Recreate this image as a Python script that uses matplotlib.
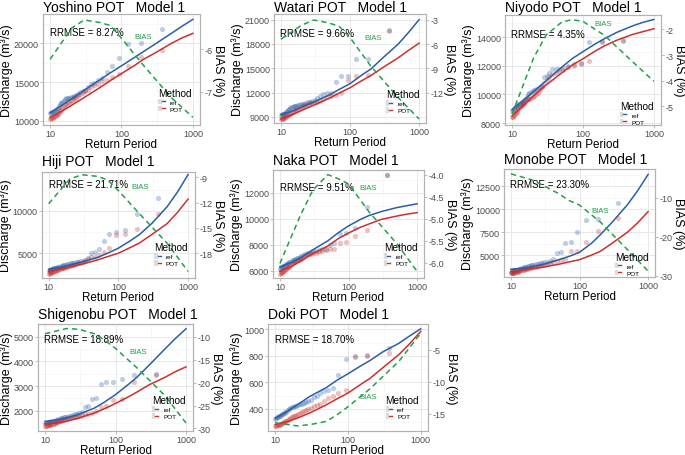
import matplotlib
matplotlib.use("Agg")
import matplotlib.pyplot as plt
from matplotlib.patches import Rectangle
from matplotlib.lines import Line2D
from matplotlib.legend_handler import HandlerTuple
from matplotlib.ticker import FixedLocator, NullFormatter, FormatStrFormatter

plt.rcParams['font.family'] = ['Liberation Sans', 'DejaVu Sans']
plt.rcParams['axes.unicode_minus'] = False

# ------------------------------------------------------------------
# data
# ------------------------------------------------------------------
# return periods of the ranked POT peaks (empirical points)
T_EMP = [370, 185, 123, 92.5, 74, 61.7, 52.9, 46.3, 41.1, 37, 33.6, 30.8, 28.5,
         26.4, 24.7, 23.1, 21.8, 20.6, 19.5, 18.5, 17.6, 16.8, 16.1, 15.4, 14.8,
         14.2, 13.7, 13.2, 12.8, 12.3, 11.9, 11.6, 11.2, 10.9, 10.6, 10.3, 10.0]
# return periods where the fitted curves were read
T_FIT = [10, 15, 20, 30, 50, 70, 100, 150, 200, 300, 500, 700, 1000]
# return periods where the BIAS curve was read
T_BIAS = [10, 20, 30, 50, 70, 100, 200, 500, 1000]

STATIONS = ['Yoshino', 'Watari', 'Niyodo', 'Hiji', 'Naka', 'Monobe', 'Shigenobu', 'Doki']
RRMSE = [8.27, 9.66, 4.35, 21.71, 9.51, 23.30, 18.89, 18.70]

yoshino_ref_fit = [11050, 12050, 12850, 13950, 15300, 16200, 17100, 18150, 18900, 19950, 21300, 22200, 23100]
yoshino_pot_fit = [10430, 11300, 12000, 13000, 14300, 15200, 16100, 17100, 17900, 18800, 20000, 20700, 21300]
yoshino_bias = [-6.24, -5.51, -5.32, -5.38, -5.45, -5.75, -6.37, -7.14, -7.6]
yoshino_ref_pts = [21900, 20100, 19900, 18100, 17100, 16300, 15500, 15300, 14900, 14700,
                   14300, 14000, 13900, 13700, 13500, 13300, 13200, 13100, 13050, 13000,
                   12950, 12900, 12800, 12600, 12400, 12300, 12200, 11900, 11700, 11500,
                   11400, 11300, 11200, 11150, 11100, 11050, 11000]
yoshino_pot_pts = [19200, 18200, 17100, 16000, 15700, 15300, 15100, 14800, 14600, 14300,
                   14000, 13800, 13600, 13400, 13200, 13000, 12900, 12700, 12500, 12400,
                   12300, 12200, 12000, 11800, 11600, 11400, 11200, 11000, 10900, 10800,
                   10700, 10600, 10500, 10400, 10350, 10300, 10250]

watari_ref_fit = [9300, 9750, 10200, 10850, 11700, 12400, 13100, 14200, 14900, 16300, 18000, 19400, 21000]
watari_pot_fit = [8750, 9300, 9800, 10450, 11300, 11950, 12600, 13500, 14100, 15100, 16300, 17200, 18100]
watari_bias = [-5.4, -3.66, -3.04, -3.41, -3.83, -5.2, -8.7, -12.6, -15.2]
watari_ref_pts = [19700, 16200, 16100, 14100, 14000, 13300, 12000, 11900, 11800, 11600,
                  11300, 11100, 11000, 10900, 10800, 10700, 10650, 10600, 10550, 10500,
                  10450, 10400, 10350, 10300, 10250, 10200, 10100, 10000, 9800, 9700,
                  9600, 9500, 9400, 9350, 9300, 9250, 9200]
watari_pot_pts = [19600, 14200, 14000, 13600, 12000, 11700, 11600, 11400, 11200, 11000,
                  10900, 10800, 10750, 10700, 10600, 10500, 10400, 10300, 10200, 10100,
                  10000, 9900, 9800, 9700, 9600, 9500, 9400, 9300, 9200, 9100,
                  9000, 8950, 8900, 8850, 8800, 8750, 8700]

niyodo_ref_fit = [8950, 9650, 10200, 10950, 11900, 12500, 13000, 13550, 13900, 14350, 14800, 15050, 15250]
niyodo_pot_fit = [8500, 9300, 9900, 10650, 11500, 12050, 12500, 13050, 13400, 13800, 14200, 14400, 14600]
niyodo_bias = [-5.3, -3.13, -2.23, -1.72, -1.62, -1.69, -2.23, -3.26, -4.03]
niyodo_ref_pts = [13800, 13750, 13700, 12200, 12100, 12000, 11850, 11800, 11800, 11750,
                  11500, 11300, 11200, 10600, 10500, 10400, 10350, 10300, 10250, 10200,
                  10100, 10000, 9800, 9700, 9600, 9500, 9450, 9400, 9350, 9300,
                  9250, 9200, 9150, 9100, 9000, 8900, 8850]
niyodo_pot_pts = [13750, 13700, 12350, 12100, 12000, 11900, 11700, 11650, 11500, 11400,
                  11200, 11000, 10800, 10500, 10300, 10100, 10000, 9900, 9800, 9750,
                  9700, 9650, 9600, 9500, 9400, 9300, 9250, 9200, 9100, 9000,
                  8900, 8800, 8700, 8600, 8500, 8450, 8400]

hiji_ref_fit = [3100, 3350, 3600, 3950, 4500, 5000, 5600, 6500, 7200, 8500, 10500, 12200, 14300]
hiji_pot_fit = [2850, 3100, 3350, 3700, 4200, 4600, 5000, 5700, 6200, 7200, 8500, 9800, 11400]
hiji_bias = [-12.13, -9.2, -8.69, -8.88, -9.3, -10.56, -13.3, -16.8, -20.15]
hiji_ref_pts = [11500, 9700, 7800, 7500, 7300, 6400, 5500, 5100, 5050, 4400,
                4200, 4100, 4050, 4000, 3950, 3900, 3850, 3800, 3750, 3700,
                3650, 3600, 3550, 3500, 3450, 3400, 3380, 3350, 3300, 3280,
                3250, 3200, 3150, 3100, 3050, 3000, 2950]
hiji_pot_pts = [9700, 7900, 7300, 7200, 5600, 5200, 4800, 4600, 4500, 4300,
                4100, 4000, 3900, 3800, 3700, 3600, 3550, 3500, 3450, 3400,
                3350, 3300, 3250, 3200, 3150, 3100, 3050, 3000, 2950, 2900,
                2850, 2800, 2750, 2700, 2680, 2650, 2600]

naka_ref_fit = [6300, 6650, 7000, 7600, 8300, 8900, 9450, 9950, 10250, 10550, 10850, 11000, 11150]
naka_pot_fit = [5950, 6350, 6750, 7300, 7900, 8450, 8900, 9350, 9600, 9950, 10200, 10350, 10470]
naka_bias = [-6.02, -4.92, -4.36, -4.0, -4.09, -4.21, -4.85, -5.56, -6.2]
naka_ref_pts = [13400, 10900, 9300, 8900, 8850, 8100, 8000, 7700, 7650, 7600,
                7550, 7500, 7450, 7400, 7350, 7300, 7200, 7100, 7050, 7000,
                6950, 6900, 6850, 6800, 6750, 6700, 6650, 6600, 6550, 6500,
                6450, 6400, 6350, 6300, 6250, 6200, 6150]
naka_pot_pts = [13350, 9100, 8700, 8200, 8100, 7700, 7650, 7600, 7500, 7450,
                7400, 7350, 7300, 7250, 7200, 7100, 7000, 6900, 6850, 6800,
                6750, 6700, 6650, 6600, 6500, 6400, 6300, 6250, 6200, 6100,
                6050, 6000, 5950, 5900, 5850, 5800, 5750]

monobe_ref_fit = [3450, 3570, 3700, 4000, 4500, 4850, 5300, 6300, 7200, 8600, 10500, 12000, 13800]
monobe_pot_fit = [3200, 3350, 3500, 3700, 4000, 4250, 4500, 5000, 5400, 6300, 7500, 8500, 9750]
monobe_bias = [-3.9, -5.4, -6.9, -9.0, -10.7, -11.9, -16.2, -23.3, -28.8]
monobe_ref_pts = [10700, 8900, 8800, 7500, 6450, 6300, 5300, 5200, 4600, 4400,
                  4300, 4200, 4150, 4100, 4050, 4000, 3950, 3900, 3880, 3850,
                  3800, 3750, 3700, 3650, 3600, 3550, 3500, 3450, 3420, 3400,
                  3380, 3350, 3320, 3300, 3250, 3200, 3150]
monobe_pot_pts = [9000, 7600, 6400, 5500, 5400, 4600, 4500, 4400, 4200, 4100,
                  4000, 3950, 3900, 3850, 3800, 3750, 3700, 3650, 3600, 3550,
                  3500, 3480, 3450, 3420, 3400, 3350, 3300, 3250, 3200, 3180,
                  3150, 3120, 3100, 3080, 3050, 3020, 3000]

shigenobu_ref_fit = [1560, 1620, 1700, 1850, 2100, 2350, 2650, 3050, 3350, 3850, 4500, 4920, 5330]
shigenobu_pot_fit = [1460, 1500, 1560, 1700, 1900, 2080, 2290, 2550, 2750, 3050, 3350, 3580, 3780]
shigenobu_bias = [-9.3, -8.16, -8.3, -9.3, -10.7, -12.5, -16.7, -22.8, -28.8]
shigenobu_ref_pts = [3500, 3450, 3300, 3170, 3150, 3100, 2500, 2480, 2200, 2150,
                     1950, 1900, 1880, 1850, 1820, 1800, 1780, 1760, 1740, 1720,
                     1700, 1680, 1660, 1640, 1620, 1600, 1590, 1580, 1570, 1560,
                     1550, 1540, 1530, 1520, 1510, 1500, 1490]
shigenobu_pot_pts = [3450, 3150, 2480, 2450, 2200, 2150, 2000, 1900, 1880, 1850,
                     1800, 1780, 1760, 1740, 1720, 1700, 1680, 1660, 1640, 1620,
                     1600, 1580, 1560, 1540, 1520, 1500, 1480, 1460, 1450, 1440,
                     1430, 1420, 1410, 1400, 1390, 1380, 1370]

doki_ref_fit = [330, 385, 430, 495, 560, 615, 665, 725, 765, 830, 895, 950, 1005]
doki_pot_fit = [282, 305, 330, 370, 430, 475, 520, 585, 630, 710, 810, 890, 985]
doki_bias = [-16.4, -16.9, -16.7, -16.2, -15.2, -13.9, -11.1, -6.8, -2.4]
doki_ref_pts = [860, 805, 800, 780, 655, 555, 545, 535, 520, 500,
                490, 470, 460, 450, 445, 440, 435, 430, 425, 420,
                418, 415, 410, 400, 390, 380, 375, 370, 365, 360,
                355, 350, 345, 340, 335, 330, 325]
doki_pot_pts = [825, 800, 795, 545, 520, 500, 480, 460, 440, 430,
                420, 410, 400, 390, 385, 380, 370, 360, 355, 350,
                345, 340, 330, 320, 315, 310, 305, 300, 295, 290,
                285, 282, 280, 278, 276, 274, 272]

DATA = {
    'Yoshino': (yoshino_ref_fit, yoshino_pot_fit, yoshino_bias, yoshino_ref_pts, yoshino_pot_pts),
    'Watari': (watari_ref_fit, watari_pot_fit, watari_bias, watari_ref_pts, watari_pot_pts),
    'Niyodo': (niyodo_ref_fit, niyodo_pot_fit, niyodo_bias, niyodo_ref_pts, niyodo_pot_pts),
    'Hiji': (hiji_ref_fit, hiji_pot_fit, hiji_bias, hiji_ref_pts, hiji_pot_pts),
    'Naka': (naka_ref_fit, naka_pot_fit, naka_bias, naka_ref_pts, naka_pot_pts),
    'Monobe': (monobe_ref_fit, monobe_pot_fit, monobe_bias, monobe_ref_pts, monobe_pot_pts),
    'Shigenobu': (shigenobu_ref_fit, shigenobu_pot_fit, shigenobu_bias, shigenobu_ref_pts, shigenobu_pot_pts),
    'Doki': (doki_ref_fit, doki_pot_fit, doki_bias, doki_ref_pts, doki_pot_pts),
}

# ------------------------------------------------------------------
# layout / axis settings per panel
# box = panel (l, t, r, b) in pixels
# ------------------------------------------------------------------
LAYOUT = {
    'Yoshino': dict(box=(43, 15, 200, 126), ylim=(9450, 23800), yticks=[10000, 15000, 20000],
                    blim=(-7.78, -5.18), bticks=[-7, -6], bfmt='%d', tpad=2.2,
                    rr=(0.047, 0.837), bl=(0.636, 0.80), leg=0.335),
    'Watari': dict(box=(274, 15, 426, 124), ylim=(8250, 21700), yticks=[9000, 12000, 15000, 18000, 21000],
                   blim=(-15.7, -2.3), bticks=[-12, -9, -6, -3], bfmt='%d', tpad=2.2,
                   rr=(0.037, 0.83), bl=(0.654, 0.786), leg=0.31),
    'Niyodo': dict(box=(505, 15.5, 661, 126), ylim=(7860, 15600), yticks=[8000, 10000, 12000, 14000],
                   blim=(-5.73, -1.42), bticks=[-5, -4, -3, -2], bfmt='%d', tpad=2.2,
                   rr=(0.038, 0.82), bl=(0.632, 0.917), leg=0.22),
    'Hiji': dict(box=(41.7, 172.7, 195, 279), ylim=(2070, 14650), yticks=[5000, 10000],
                 blim=(-20.93, -8.33), bticks=[-18, -15, -12, -9], bfmt='%d', tpad=4.5,
                 rr=(0.05, 0.88), bl=(0.641, 0.86), leg=0.335),
    'Naka': dict(box=(273, 171, 424, 279), ylim=(5440, 13750), yticks=[6000, 8000, 10000, 12000],
                 blim=(-6.35, -3.895), bticks=[-6.0, -5.5, -5.0, -4.5, -4.0], bfmt='%.1f', tpad=4.5,
                 rr=(0.044, 0.84), bl=(0.63, 0.84), leg=0.33),
    'Monobe': dict(box=(504, 170, 655, 278), ylim=(2610, 14390), yticks=[5000, 7500, 10000, 12500],
                   blim=(-30.3, -2.66), bticks=[-30, -20, -10], bfmt='%d', tpad=4.5,
                   rr=(0.043, 0.858), bl=(0.635, 0.62), leg=0.235),
    'Shigenobu': dict(box=(38, 325, 193, 432), ylim=(1170, 5525), yticks=[2000, 3000, 4000, 5000],
                      blim=(-30.57, -7.16), bticks=[-30, -25, -20, -15, -10], bfmt='%d', tpad=4.5,
                      rr=(0.039, 0.864), bl=(0.645, 0.74), leg=0.335),
    'Doki': dict(box=(268, 325, 428, 432), ylim=(233, 1041), yticks=[400, 600, 800, 1000],
                 blim=(-17.7, -0.94), bticks=[-15, -10, -5], bfmt='%d', tpad=4.5,
                 rr=(0.042, 0.858), bl=(0.625, 0.324), leg=0.335),
}

REF_C = '#2a5ea6'
POT_C = '#c8312f'
BIAS_C = '#22a04b'
BORDER = '#b3b3b3'
TICK_TXT = '#4d4d4d'
TICK_FS = 6.5
XLABEL_FS = 8.4
YLABEL_FS = 9.0

W, H = 685, 456
fig = plt.figure(figsize=(W / 100, H / 100), dpi=100)


def minor_mids(ticks, lim):
    step = ticks[1] - ticks[0]
    vals = [ticks[0] - step / 2] + [t + step / 2 for t in ticks]
    return [v for v in vals if lim[0] <= v <= lim[1]]


for name, rr in zip(STATIONS, RRMSE):
    ref_fit, pot_fit, bias, ref_pts, pot_pts = DATA[name]
    lay = LAYOUT[name]
    l, t, r, b = lay['box']
    ax = fig.add_axes([l / W, 1 - b / H, (r - l) / W, (b - t) / H])

    # empirical points then fitted curves
    ax.scatter(T_EMP, ref_pts, s=14, color=REF_C, alpha=0.3, linewidths=0, zorder=2)
    ax.scatter(T_EMP, pot_pts, s=14, color=POT_C, alpha=0.3, linewidths=0, zorder=2)
    ax.plot(T_FIT, ref_fit, color=REF_C, lw=1.1, zorder=3)
    ax.plot(T_FIT, pot_fit, color=POT_C, lw=1.1, zorder=3)

    ax.set_xscale('log')
    ax.set_xlim(10 ** 0.9, 10 ** 3.1)
    ax.xaxis.set_major_locator(FixedLocator([10, 100, 1000]))
    ax.set_xticklabels(['10', '100', '1000'])
    ax.xaxis.set_minor_locator(FixedLocator([10 ** 1.5, 10 ** 2.5]))
    ax.xaxis.set_minor_formatter(NullFormatter())
    ax.set_ylim(*lay['ylim'])
    ax.yaxis.set_major_locator(FixedLocator(lay['yticks']))
    ax.yaxis.set_major_formatter(FormatStrFormatter('%d'))
    ax.yaxis.set_minor_locator(FixedLocator(minor_mids(lay['yticks'], lay['ylim'])))
    ax.yaxis.set_minor_formatter(NullFormatter())

    ax.grid(which='major', color='#e4e4e4', lw=0.6)
    ax.grid(which='minor', color='#f2f2f2', lw=0.4)
    ax.set_axisbelow(True)
    ax.tick_params(which='major', length=2, width=0.6, color=BORDER,
                   labelsize=TICK_FS, labelcolor=TICK_TXT, pad=1)
    ax.tick_params(which='minor', length=0)
    for sp in ax.spines.values():
        sp.set_color(BORDER)
        sp.set_linewidth(0.8)

    ax.set_title(f'{name} POT   Model 1', loc='left', fontsize=10, pad=lay['tpad'])
    ax.set_xlabel('Return Period', fontsize=XLABEL_FS, labelpad=0)
    ax.set_ylabel('Discharge (m³/s)', fontsize=YLABEL_FS, labelpad=0.5)
    ax.text(lay['rr'][0], lay['rr'][1], f'RRMSE = {rr:.2f}%', transform=ax.transAxes,
            fontsize=7, ha='left', va='center', zorder=5)

    # secondary axis: BIAS (%)
    ax2 = ax.twinx()
    ax2.plot(T_BIAS, bias, color=BIAS_C, lw=1.1, ls=(0, (3.5, 2.5)), zorder=4)
    ax2.set_ylim(*lay['blim'])
    ax2.yaxis.set_major_locator(FixedLocator(lay['bticks']))
    ax2.yaxis.set_major_formatter(FormatStrFormatter(lay['bfmt']))
    ax2.tick_params(length=2, width=0.6, color=BORDER, labelsize=TICK_FS,
                    labelcolor=TICK_TXT, pad=1)
    for sp in ax2.spines.values():
        sp.set_color(BORDER)
        sp.set_linewidth(0.8)
    ax2.set_ylabel('BIAS (%)', fontsize=YLABEL_FS, rotation=270, va='bottom', labelpad=0)
    ax2.text(lay['bl'][0], lay['bl'][1], 'BIAS', transform=ax2.transAxes, color=BIAS_C,
             fontsize=5.6, ha='center', va='center')

    # legend "Method"
    key_bg = Rectangle((0, 0), 1, 1, facecolor='#dcdcdc', edgecolor='none')
    ref_key = Line2D([], [], color=REF_C, lw=1.0)
    pot_key = Line2D([], [], color=POT_C, lw=1.0)
    ax2.legend(handles=[(key_bg, ref_key), (key_bg, pot_key)], labels=['ref', 'POT'],
               handler_map={tuple: HandlerTuple(ndivide=None, pad=0)},
               title='Method', title_fontsize=7.2, fontsize=4.6,
               loc='upper left', bbox_to_anchor=(0.735, lay['leg']),
               frameon=False, handlelength=1.0, handleheight=1.0,
               handletextpad=0.8, labelspacing=0.15, borderpad=0,
               borderaxespad=0, alignment='left')

fig.savefig('out.png', dpi=100)
